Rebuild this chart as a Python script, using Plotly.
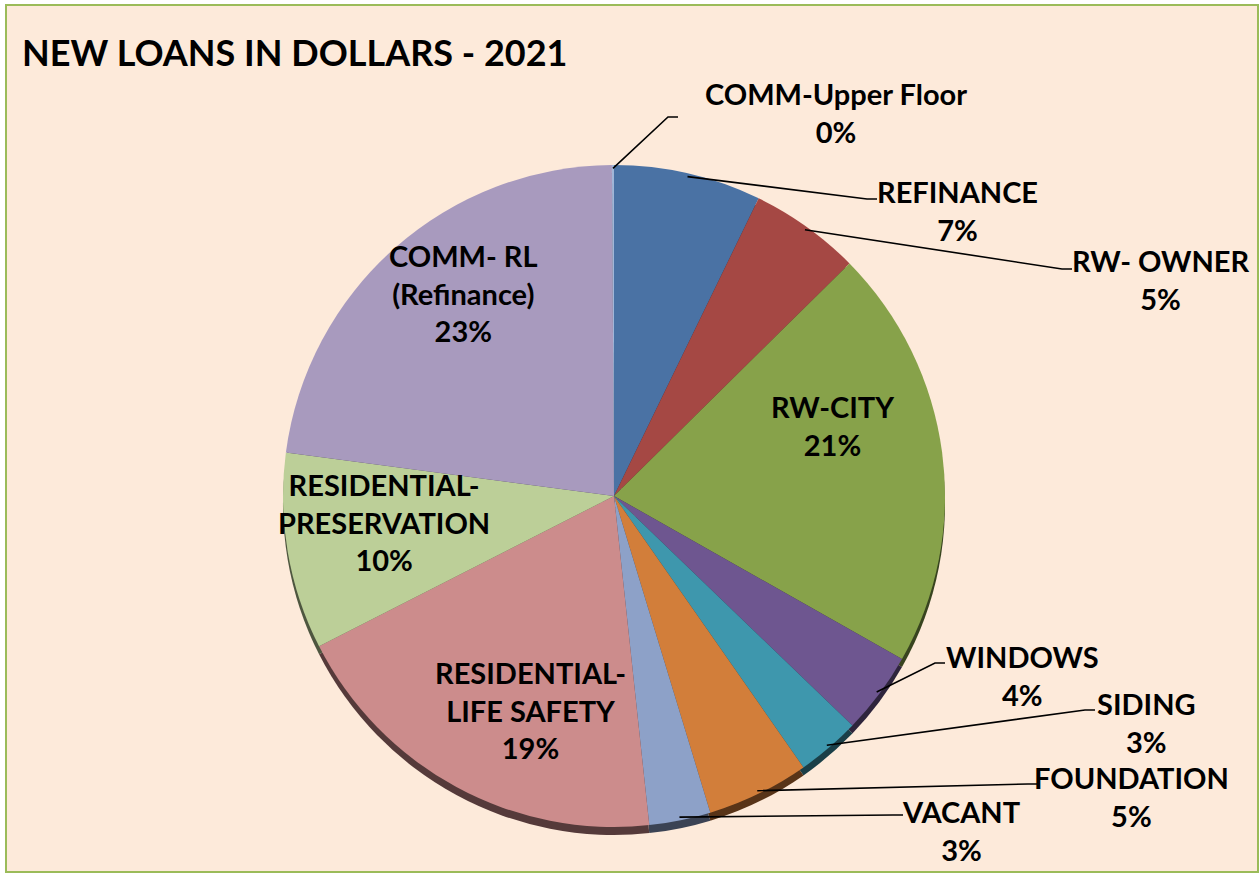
import math
import plotly.graph_objects as go

# ---------------- data ----------------
labels = ["REFINANCE", "RW- OWNER", "RW-CITY", "WINDOWS", "SIDING", "FOUNDATION",
          "VACANT", "RESIDENTIAL- LIFE SAFETY", "RESIDENTIAL- PRESERVATION",
          "COMM- RL (Refinance)", "COMM-Upper Floor"]
label_lines = ["REFINANCE", "RW- OWNER", "RW-CITY", "WINDOWS", "SIDING", "FOUNDATION",
               "VACANT", "RESIDENTIAL-<br>LIFE SAFETY", "RESIDENTIAL-<br>PRESERVATION",
               "COMM- RL<br>(Refinance)", "COMM-Upper Floor"]
values = [7.2, 5.4, 20.6, 4.0, 3.1, 5.0, 3.0, 19.2, 9.6, 22.8, 0.1]
title = "NEW LOANS IN DOLLARS - 2021"

# ---------------- styles ----------------
colors = ["#4A72A4", "#A54844", "#87A24A", "#6E5690", "#3E97AD", "#D27E3A",
          "#8DA1C8", "#CC8C8C", "#BCCF98", "#A89ABE", "#A1B6D8"]


def darker(hexc, f=0.42):
    h = hexc.lstrip("#")
    r, g, b = (int(h[i:i + 2], 16) for i in (0, 2, 4))
    return "#%02X%02X%02X" % (int(r * f), int(g * f), int(b * f))


rim_colors = [darker(c) for c in colors]

W, H = 1260, 874
CX, CY, R = 614, 496, 331      # pie centre / radius in px
RIM = 8                        # 3-D rim depth in px

# label block centres (px) and leader-line label-side points (px)
label_pos = [(957, 210), (1160, 279), (832, 425), (1022, 675), (1146, 722),
             (1131, 796), (961, 830), (530, 710), (384, 522), (463, 293), (836, 112)]
leaders = {0: [(877, 199), (867, 199)],
           1: [(1072, 269), (1062, 269)],
           3: [(945, 663), (935, 663)],
           4: [(1095, 710), (1085, 710)],
           5: [(1037, 784), (1028, 784)],
           6: [(903, 815), (893, 815)],
           10: [(678, 117), (668, 117)]}

FONT = "Lato, 'Open Sans', sans-serif"


def px(x):
    return x / W


def py(y):
    return 1 - y / H


dom_x = [px(CX - R), px(CX + R)]
dom_y = [py(CY + R), py(CY - R)]
dom_y_rim = [py(CY + R + RIM), py(CY - R + RIM)]

fig = go.Figure()
# 3-D rim (shifted copy underneath)
fig.add_trace(go.Pie(labels=labels, values=values, sort=False, direction="clockwise",
                     rotation=0, textinfo="none", hoverinfo="skip",
                     marker=dict(colors=rim_colors, line=dict(width=0)),
                     domain=dict(x=dom_x, y=dom_y_rim), showlegend=False))
# top face
fig.add_trace(go.Pie(labels=labels, values=values, sort=False, direction="clockwise",
                     rotation=0, textinfo="none",
                     marker=dict(colors=colors, line=dict(width=0)),
                     domain=dict(x=dom_x, y=dom_y), showlegend=False))

total = sum(values)
cum = 0.0
annotations = []
shapes = [dict(type="rect", xref="paper", yref="paper", x0=px(6), x1=px(1258),
               y0=py(872), y1=py(5), line=dict(color="#9BBB59", width=2),
               fillcolor="#FDEADA", layer="below")]
for i, v in enumerate(values):
    frac_mid = (cum + v / 2) / total
    cum += v
    pct = round(v / total * 100)
    lx, ly = label_pos[i]
    annotations.append(dict(x=px(lx), y=py(ly), xref="paper", yref="paper",
                            text="<b>%s<br>%d%%</b>" % (label_lines[i], pct),
                            showarrow=False, xanchor="center", yanchor="middle",
                            align="center", font=dict(family=FONT, size=29, color="black")))
    if i in leaders:
        th = 2 * math.pi * frac_mid
        tx = CX + R * 0.99 * math.sin(th)
        ty = CY - R * 0.99 * math.cos(th)
        (ex, ey), (bx, by) = leaders[i]
        path = "M %f,%f L %f,%f L %f,%f" % (px(ex), py(ey), px(bx), py(by), px(tx), py(ty))
        shapes.append(dict(type="path", xref="paper", yref="paper", path=path,
                           line=dict(color="black", width=1.6), layer="above"))

annotations.append(dict(x=px(20), y=py(52), xref="paper", yref="paper",
                        text="<b>%s</b>" % title, showarrow=False,
                        xanchor="left", yanchor="middle",
                        font=dict(family=FONT, size=36, color="black")))

fig.update_layout(width=W, height=H, margin=dict(l=0, r=0, t=0, b=0),
                  paper_bgcolor="white", plot_bgcolor="white",
                  annotations=annotations, shapes=shapes, showlegend=False)

fig.write_html("out.html", config={"displayModeBar": False},
               post_script="document.body.style.margin='0';document.body.style.overflow='hidden';")
